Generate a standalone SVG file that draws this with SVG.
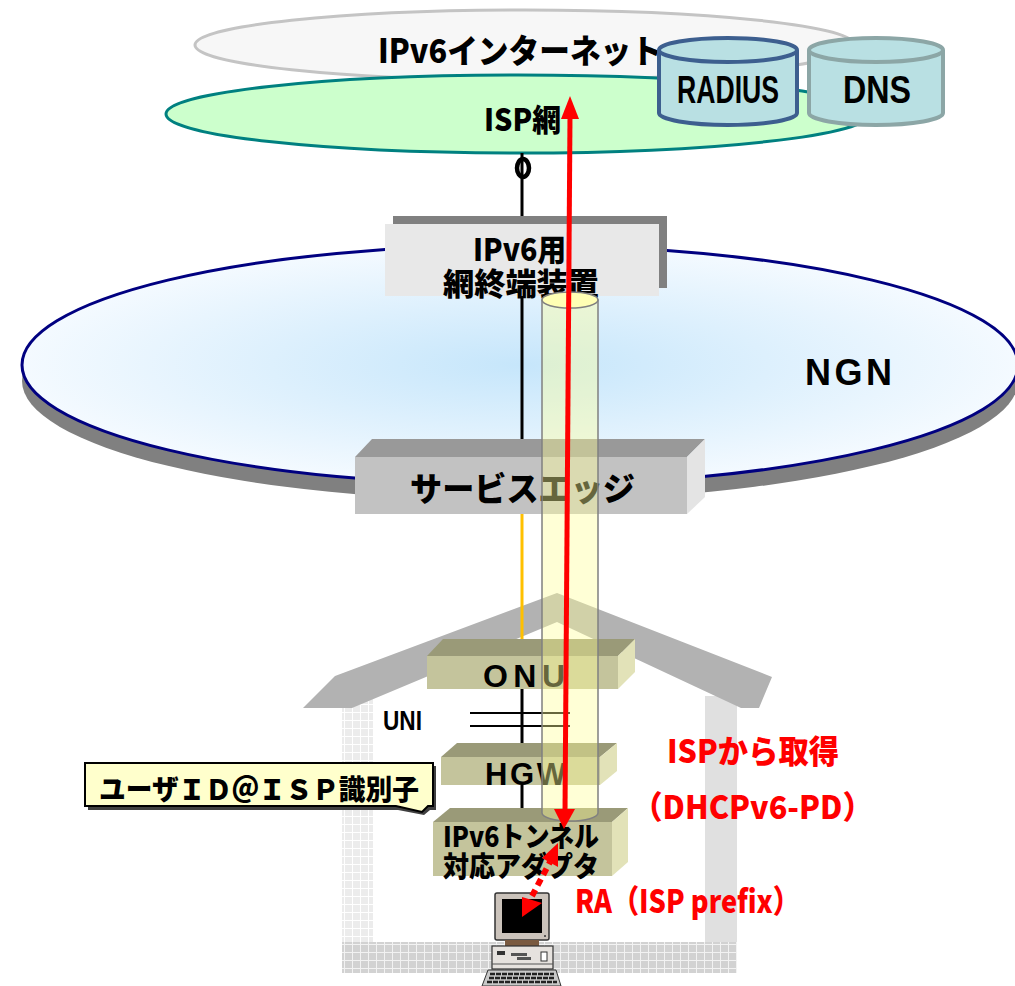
<svg xmlns="http://www.w3.org/2000/svg" width="1015" height="986" viewBox="0 0 1015 986">
  <style>
    .jp { font-family: "Noto Sans CJK JP", "Noto Sans", sans-serif; font-weight: 900; }
    .lat { font-family: "Liberation Sans", Arial, sans-serif; font-weight: bold; }
    .blk { fill: #000; }
    .red { fill: #ff0000; }
    .cyl { fill: #b9e0e3; stroke-width: 4; }
    .boxFront { fill: #c4c49c; }
    .boxTop { fill: #9a9a78; }
    .boxSide { fill: #e2e2b8; }
  </style>
  <defs>
    <radialGradient id="ngnFill" cx="50%" cy="50%" r="50%">
      <stop offset="0" stop-color="#c6e6fb"/>
      <stop offset="1" stop-color="#f4faff"/>
    </radialGradient>
    <pattern id="gridLight" width="8" height="8" patternUnits="userSpaceOnUse">
      <rect width="8" height="8" fill="#ececec"/>
      <path d="M0 0.5 H8 M0.5 0 V8" stroke="#ffffff" stroke-width="1"/>
    </pattern>
    <pattern id="gridDark" width="8" height="8" patternUnits="userSpaceOnUse">
      <rect width="8" height="8" fill="#d2d2d2"/>
      <path d="M0 0.5 H8 M0.5 0 V8" stroke="#f2f2f2" stroke-width="1"/>
    </pattern>
  </defs>

  <!-- IPv6 internet cloud -->
  <g id="internet">
    <ellipse cx="525" cy="45" rx="330" ry="35" fill="#f7f7f7" stroke="#c4c4c4" stroke-width="3"/>
    <text class="jp blk" x="378" y="63" font-size="33" textLength="284" lengthAdjust="spacingAndGlyphs">IPv6インターネット</text>
  </g>

  <!-- ISP network -->
  <g id="isp">
    <ellipse cx="518" cy="114" rx="352" ry="39" fill="#ccffcc" stroke="#008080" stroke-width="3"/>
    <text class="jp blk" x="484" y="131" font-size="31" textLength="77" lengthAdjust="spacingAndGlyphs">ISP網</text>
  </g>

  <g id="radius">
    <path class="cyl" stroke="#3d5f8f" d="M659 50 V113 A69 12 0 0 0 797 113 V50 A69 12 0 0 0 659 50 Z"/>
    <path d="M659 50 A69 12 0 0 0 797 50" fill="none" stroke="#3d5f8f" stroke-width="4"/>
    <text class="lat blk" x="677" y="103" font-size="38" textLength="102" lengthAdjust="spacingAndGlyphs">RADIUS</text>
  </g>

  <g id="dns">
    <path class="cyl" stroke="#8ca6a6" d="M809 50 V113 A67 12 0 0 0 943 113 V50 A67 12 0 0 0 809 50 Z"/>
    <path d="M809 50 A67 12 0 0 0 943 50" fill="none" stroke="#8ca6a6" stroke-width="4"/>
    <text class="lat blk" x="843" y="103" font-size="38" textLength="68" lengthAdjust="spacingAndGlyphs">DNS</text>
  </g>

  <!-- NGN -->
  <g id="ngn">
    <ellipse cx="520" cy="381" rx="498" ry="120" fill="#808080"/>
    <ellipse cx="520" cy="365" rx="498" ry="120" fill="url(#ngnFill)" stroke="#000080" stroke-width="3"/>
    <text class="lat blk" x="805" y="385" font-size="36" letter-spacing="5" textLength="92" lengthAdjust="spacing">NGN</text>
  </g>

  <!-- House -->
  <g id="house">
    <rect x="342" y="676" width="31" height="297" fill="url(#gridLight)"/>
    <rect x="705" y="696" width="32" height="277" fill="#e0e0e0"/>
    <rect x="342" y="942" width="395" height="31" fill="url(#gridDark)"/>
    <polygon points="303,708 335,676 557,593 772,677 759,708 741,708 557,622 352,708" fill="#b2b2b2"/>
  </g>

  <!-- Connectors -->
  <g id="connectors" fill="none">
    <line x1="522" y1="153" x2="522" y2="224" stroke="#000" stroke-width="3"/>
    <ellipse cx="523" cy="168" rx="6" ry="9" stroke="#000" stroke-width="4.5"/>
    <line x1="522" y1="296" x2="522" y2="440" stroke="#000" stroke-width="3"/>
    <line x1="522" y1="514" x2="522" y2="656" stroke="#ffc000" stroke-width="3"/>
    <line x1="522" y1="689" x2="522" y2="822" stroke="#000" stroke-width="3"/>
    <line x1="470" y1="713" x2="570" y2="713" stroke="#000" stroke-width="2"/>
    <line x1="470" y1="726" x2="570" y2="726" stroke="#000" stroke-width="2"/>
  </g>

  <!-- IPv6 network termination equipment -->
  <g id="nte">
    <rect x="393" y="216" width="274" height="72" fill="#808080"/>
    <rect x="385" y="224" width="274" height="72" fill="#e8e8e8"/>
    <text class="jp blk" font-size="31"><tspan x="473" y="261" textLength="93" lengthAdjust="spacingAndGlyphs">IPv6用</tspan><tspan x="443" y="295" textLength="156" lengthAdjust="spacingAndGlyphs">網終端装置</tspan></text>
  </g>

  <!-- Service edge -->
  <g id="service-edge">
    <polygon points="355,457 372,439 705,439 687,457" fill="#999999"/>
    <polygon points="687,457 705,439 705,497 687,514" fill="#e4e4e4"/>
    <rect x="355" y="457" width="332" height="57" fill="#c2c2c2"/>
    <text class="jp blk" x="410" y="501" font-size="33" textLength="225" lengthAdjust="spacingAndGlyphs">サービスエッジ</text>
  </g>

  <text id="uni" class="lat blk" x="383" y="730" font-size="27" textLength="39" lengthAdjust="spacingAndGlyphs">UNI</text>

  <g id="onu">
    <polygon class="boxTop" points="427,656 443,639 635,639 618,656"/>
    <polygon class="boxSide" points="618,656 635,639 635,672 618,689"/>
    <rect class="boxFront" x="427" y="656" width="191" height="33"/>
    <text class="lat blk" x="483" y="687" font-size="32" textLength="82" lengthAdjust="spacing">ONU</text>
  </g>

  <g id="hgw">
    <polygon class="boxTop" points="441,757 457,743 617,743 600,757"/>
    <polygon class="boxSide" points="600,757 617,743 617,771 600,785"/>
    <rect class="boxFront" x="441" y="757" width="159" height="28"/>
    <text class="lat blk" x="485" y="785" font-size="31" textLength="81" lengthAdjust="spacing">HGW</text>
  </g>

  <g id="adapter">
    <polygon class="boxTop" points="433,822 450,808 628,808 612,822"/>
    <polygon class="boxSide" points="612,822 628,808 628,862 612,876"/>
    <rect class="boxFront" x="433" y="822" width="179" height="54"/>
    <text class="jp blk" font-size="28"><tspan x="443" y="847" textLength="156" lengthAdjust="spacingAndGlyphs">IPv6トンネル</tspan><tspan x="443" y="877" textLength="156" lengthAdjust="spacingAndGlyphs">対応アダプタ</tspan></text>
  </g>

  <!-- IPv6 tunnel -->
  <g id="tunnel">
    <path d="M542 300 V813 A28 8 0 0 0 598 813 V300 Z" fill="#ffff99" fill-opacity="0.4" stroke="#808080" stroke-width="1.5"/>
    <ellipse cx="570" cy="300" rx="28" ry="8" fill="#ffffb4" stroke="#808080" stroke-width="1.5"/>
  </g>

  <!-- User ID callout -->
  <g id="callout">
    <path d="M88 766 H436 V810 H430 L424 815 L398 810 H88 Z" fill="#404040"/>
    <path d="M85 763 H433 V806 H428 L422 812 L396 806 H85 Z" fill="#ffffcc" stroke="#000" stroke-width="2"/>
    <text class="jp blk" x="99" y="800" font-size="28" textLength="320" lengthAdjust="spacingAndGlyphs">ユーザＩＤ＠ＩＳＰ識別子</text>
  </g>

  <!-- PC -->
  <g id="pc">
    <rect x="495" y="893" width="54" height="47" rx="2" fill="#cbc3bb" stroke="#333" stroke-width="1.5"/>
    <rect x="502" y="899" width="40" height="34" fill="#000"/>
    <circle cx="545" cy="936" r="1" fill="#333"/>
    <rect x="505" y="940" width="34" height="7" fill="#7a5a40"/>
    <rect x="492" y="946" width="61" height="23" fill="#e6e2de" stroke="#333" stroke-width="1.2"/>
    <rect x="497" y="951" width="8" height="4" fill="#333"/>
    <rect x="511" y="953" width="16" height="3" fill="#555"/>
    <rect x="517" y="957" width="14" height="3" fill="#555"/>
    <rect x="541" y="952" width="6" height="9" fill="#fff" stroke="#333" stroke-width="1"/>
    <line x1="492" y1="964" x2="553" y2="964" stroke="#555" stroke-width="1"/>
    <path d="M488 970 H556 L561 986 H482 Z" fill="#c8c8c8" stroke="#333" stroke-width="1"/>
    <path d="M490 974 H554 M489 978 H555 M487 982 H557" stroke="#222" stroke-width="2.5" stroke-dasharray="5 1"/>
  </g>

  <!-- Arrows -->
  <g id="arrows">
    <line x1="570" y1="116" x2="565" y2="812" stroke="#ff0000" stroke-width="5"/>
    <polygon points="570,96 579,119 561,119" fill="#ff0000"/>
    <polygon points="564,829 554,809 575,809" fill="#ff0000"/>
    <line x1="532" y1="896" x2="550" y2="862" stroke="#ff0000" stroke-width="6" stroke-dasharray="7 5"/>
    <polygon points="558,843 542,858 558,867" fill="#ff0000"/>
    <polygon points="522,897 542,903 522,917" fill="#ff0000"/>
  </g>

  <!-- Labels -->
  <g id="labels">
    <text class="jp red" x="667" y="763" font-size="32" textLength="172" lengthAdjust="spacingAndGlyphs">ISPから取得</text>
    <text class="jp red" x="632" y="819" font-size="32" textLength="241" lengthAdjust="spacingAndGlyphs">（DHCPv6-PD）</text>
    <text class="jp red" x="575" y="913" font-size="32" textLength="225" lengthAdjust="spacingAndGlyphs">RA（ISP prefix）</text>
  </g>
</svg>
